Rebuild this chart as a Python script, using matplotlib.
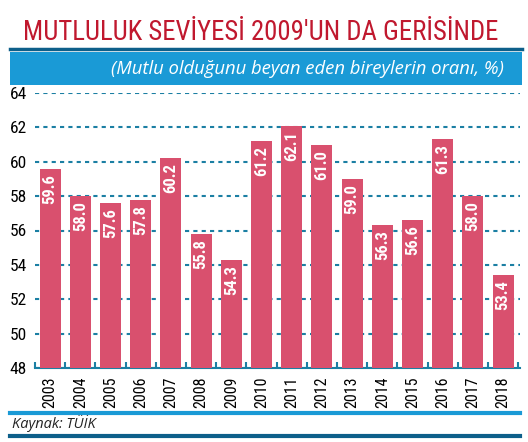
import numpy as np
import matplotlib
matplotlib.use("Agg")
import matplotlib.pyplot as plt
from matplotlib.patches import Rectangle
from matplotlib.lines import Line2D

years = ['2003', '2004', '2005', '2006', '2007', '2008', '2009', '2010',
         '2011', '2012', '2013', '2014', '2015', '2016', '2017', '2018']
values = [59.6, 58.0, 57.6, 57.8, 60.2, 55.8, 54.3, 61.2,
          62.1, 61.0, 59.0, 56.3, 56.6, 61.3, 58.0, 53.4]
yticks = [48, 50, 52, 54, 56, 58, 60, 62, 64]

title = "MUTLULUK SEVİYESİ 2009'UN DA GERİSİNDE"
subtitle = "(Mutlu olduğunu beyan eden bireylerin oranı, %)"
source = "Kaynak: TÜİK"

narrow = ['Roboto Condensed', 'DejaVu Sans']
bar_col = '#d9506e'
grid_col = '#1b7fa3'

fig = plt.figure(figsize=(5.28, 4.42), dpi=100)
W, H = 528, 442

def fx(px):
    return px / W

def fy(py):
    return 1 - py / H

# header
fig.add_artist(Line2D([fx(10), fx(522)], [fy(48.5), fy(48.5)], color='#0d5f8a', lw=2.5))
fig.add_artist(Rectangle((fx(10), fy(85)), fx(512), 33 / H, color='#1a9ad6', lw=0))
fig.text(fx(261), fy(32), title, ha='center', va='center', color='#c0182e',
         fontsize=19.3, family=narrow)
fig.text(fx(504), fy(69), subtitle, ha='right', va='center', color='white',
         fontsize=13.3, style='italic', family=['Open Sans', 'DejaVu Sans'])

# footer
fig.add_artist(Line2D([fx(10), fx(520)], [fy(413), fy(413)], color='#1a9ad6', lw=3))
fig.add_artist(Line2D([fx(10), fx(520)], [fy(436), fy(436)], color='#0d5f8a', lw=3))
fig.text(fx(12), fy(424), source, ha='left', va='center', color='#222222',
         fontsize=10.5, style='italic', family=['Open Sans', 'DejaVu Sans'])

ax = fig.add_axes([fx(35), fy(368), fx(485), 275 / H])
x = np.arange(len(years))
ax.bar(x, values, width=0.69, color=bar_col, zorder=3)
for xi, v in zip(x, values):
    ax.text(xi, v - 0.3, f'{v:.1f}', rotation=90, ha='center', va='top',
            color='white', fontsize=12, fontweight='bold', family=narrow, zorder=4)

ax.set_ylim(48, 64)
ax.set_xlim(-0.45, len(years) - 0.44)
ax.set_yticks(yticks)
ax.set_yticklabels([str(t) for t in yticks], family=narrow, fontsize=12.5)
ax.set_xticks(x)
ax.set_xticklabels(years, rotation=90, family=narrow, fontsize=11.5)
ax.set_xticks(np.arange(-0.5, len(years)), minor=True)
ax.tick_params(axis='both', which='major', length=0, pad=6)
ax.tick_params(axis='x', which='minor', direction='in', length=4, width=1.5, color=grid_col)
ax.grid(axis='y', color=grid_col, linestyle=(0, (2, 2)), lw=1.5, zorder=1)
for s in ['left', 'right', 'top']:
    ax.spines[s].set_visible(False)
ax.spines['bottom'].set_color(grid_col)
ax.spines['bottom'].set_linestyle((0, (1, 1)))
ax.spines['bottom'].set_linewidth(1.5)

fig.savefig('out.png', dpi=100)
